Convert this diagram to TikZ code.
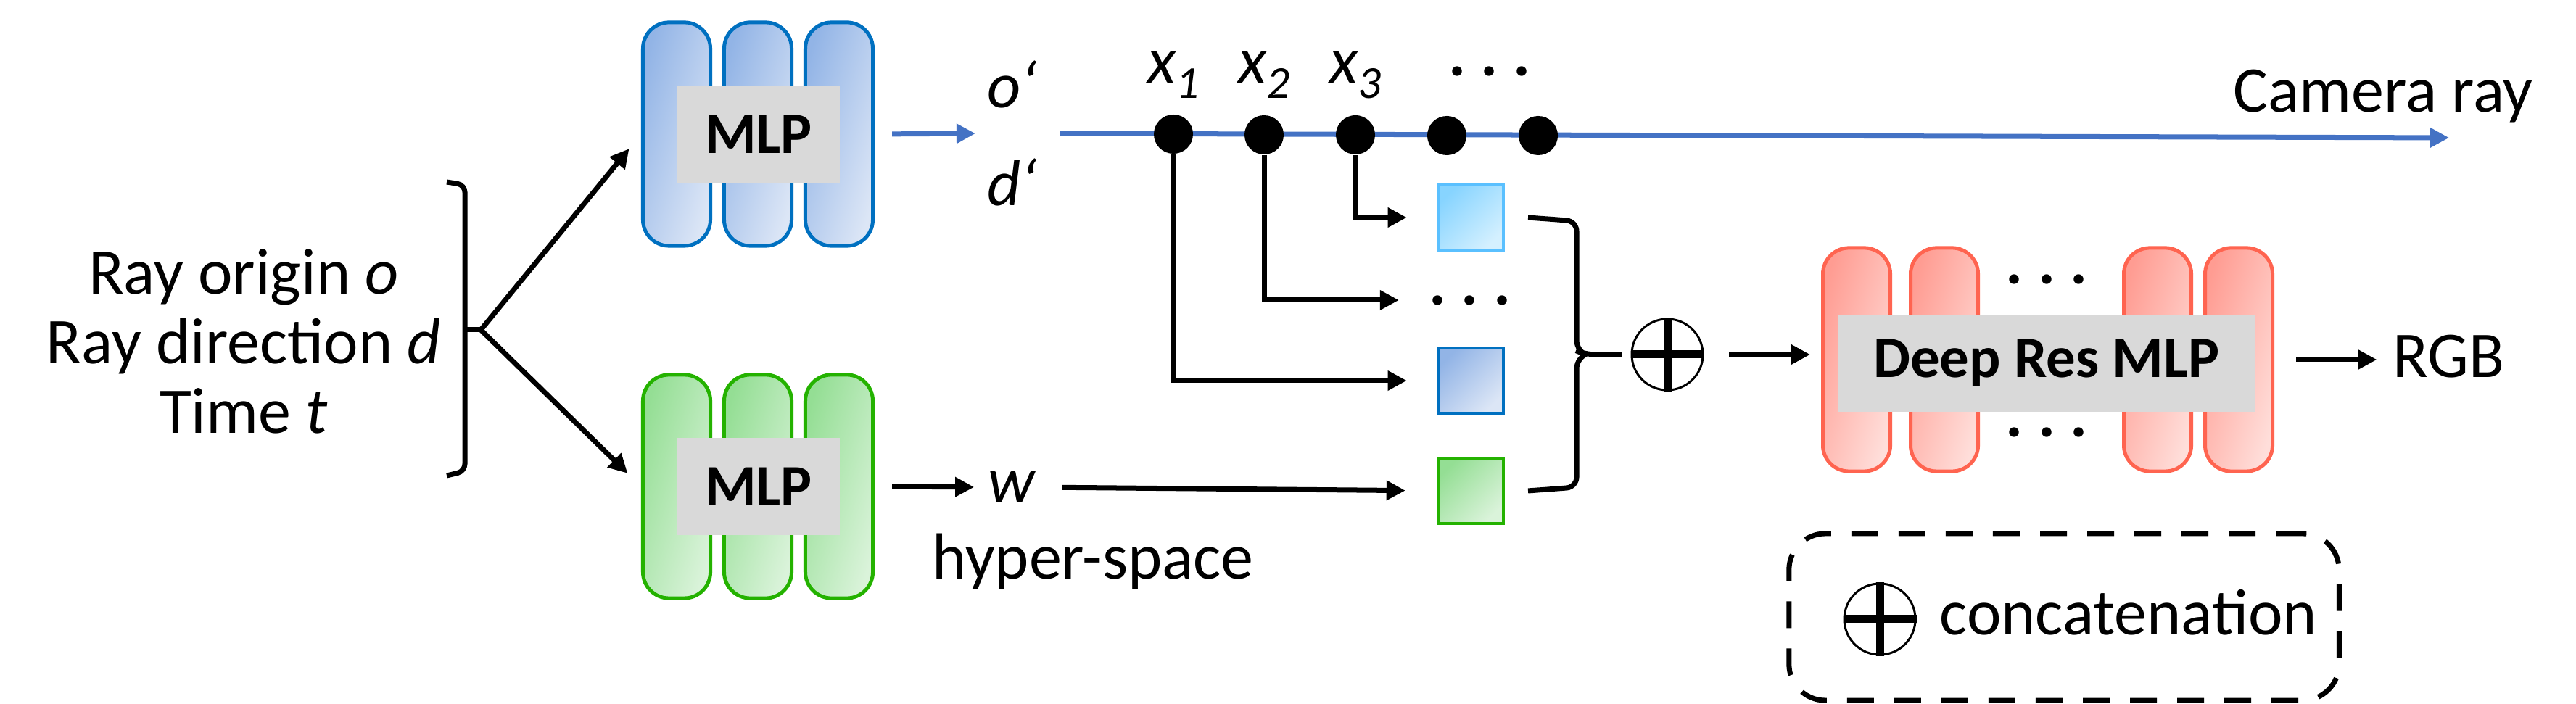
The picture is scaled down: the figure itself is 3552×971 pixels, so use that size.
\documentclass[tikz,border=0pt]{standalone}
\usepackage{fontspec}
\setmainfont{Carlito}
\usetikzlibrary{arrows.meta}

\definecolor{mlpblue}{RGB}{0,112,192}
\definecolor{bluetop}{RGB}{146,180,230}
\definecolor{bluebot}{RGB}{220,230,246}
\definecolor{mlpgreen}{RGB}{36,178,0}
\definecolor{greentop}{RGB}{148,222,148}
\definecolor{greenbot}{RGB}{218,243,218}
\definecolor{mlpred}{RGB}{255,100,80}
\definecolor{redtop}{RGB}{255,156,146}
\definecolor{redbot}{RGB}{255,222,218}
\definecolor{skyline}{RGB}{90,192,255}
\definecolor{skytop}{RGB}{135,212,255}
\definecolor{skybot}{RGB}{212,240,255}
\definecolor{boxgray}{RGB}{217,217,217}
\definecolor{raycol}{RGB}{68,114,196}

\newcommand{\txtsize}{\fontsize{25.6}{30}\selectfont}
\newcommand{\subsize}{\fontsize{18}{20}\selectfont}

\begin{document}
\begin{tikzpicture}[x=0.01cm, y=-0.01cm,
    every node/.style={inner sep=0pt, font=\txtsize},
    pillar/.style={draw, line width=0.05cm, rounded corners=0.36cm, minimum width=0.93cm, minimum height=3.08cm},
    bluepillar/.style={pillar, draw=mlpblue, top color=bluetop, bottom color=bluebot, shading angle=73},
    greenpillar/.style={pillar, draw=mlpgreen, top color=greentop, bottom color=greenbot, shading angle=73},
    redpillar/.style={pillar, draw=mlpred, top color=redtop, bottom color=redbot, shading angle=73},
    graybox/.style={fill=boxgray, font=\fontsize{23}{27}\selectfont\bfseries, minimum height=1.33cm},
    feat/.style={draw, line width=0.045cm, minimum size=0.9cm},
    sample/.style={circle, fill=black, minimum size=0.54cm},
    dots/.style={font=\txtsize\bfseries},
    arr/.style={line width=0.07cm, -{Triangle[length=0.26cm, width=0.26cm]}},
    rayarr/.style={arr, draw=raycol},
    brk/.style={line width=0.07cm, rounded corners=0.1cm},
    catnode/.style={circle, draw, line width=0.03cm, minimum size=0.98cm},
    ]
    \useasboundingbox (0,0) rectangle (3552,971);

    % inputs
    \node[anchor=base] (inO) at (336,406) {Ray origin \textit{o}};
    \node[anchor=base] (inD) at (336,502) {Ray direction \textit{d}};
    \node[anchor=base] (inT) at (336,598) {Time \textit{t}};

    % bracket
    \draw[brk] (616,251) -- (641,255) -- (641,650) -- (616,656);
    \coordinate (split) at (663,455);
    \draw[line width=0.07cm] (641,455) -- (split);

    % MLP for the ray (blue)
    \node[bluepillar] (b1) at (933,185) {};
    \node[bluepillar] (b2) at (1045,185) {};
    \node[bluepillar] (b3) at (1157,185) {};
    \node[graybox, minimum width=2.23cm] (bm) at (1046,185) {MLP};

    % MLP for the hyper-space (green)
    \node[greenpillar] (g1) at (933,671) {};
    \node[greenpillar] (g2) at (1045,671) {};
    \node[greenpillar] (g3) at (1157,671) {};
    \node[graybox, minimum width=2.23cm] (gm) at (1046,671) {MLP};

    \draw[arr, shorten >=0.26cm] (split) -- (b1.west);
    \draw[arr, shorten >=0.26cm] (split) -- (g1.west);

    % o' d'
    \node[align=center, font=\txtsize\itshape] (od) at (1396,184) {o‘\\[0.3cm]d‘};
    \draw[rayarr, shorten <=0.24cm, shorten >=0.16cm] (b3.east) -- (od.west);

    % camera ray
    \coordinate (rayend) at (3377,190);
    \draw[rayarr, shorten <=0.31cm] (od.east) -- (rayend);
    \node[anchor=base west] (cam) at (3079,155) {Camera ray};

    % samples
    \node[sample] (d1) at (1618,185) {};
    \node[sample] (d2) at (1743,186) {};
    \node[sample] (d3) at (1869,186) {};
    \node[sample] (d4) at (1995,187) {};
    \node[sample] (d5) at (2121,187) {};

    \node[anchor=base, font=\txtsize\itshape] (x1) at (1618,115) {x\raisebox{-0.21cm}{\subsize 1}};
    \node[anchor=base, font=\txtsize\itshape] (x2) at (1743,115) {x\raisebox{-0.21cm}{\subsize 2}};
    \node[anchor=base, font=\txtsize\itshape] (x3) at (1869,115) {x\raisebox{-0.21cm}{\subsize 3}};
    \node[dots] (xd) at (2054,98) {.\ .\ .};

    % w
    \node[font=\txtsize\itshape] (w) at (1395,672) {w};
    \node[anchor=base] (hyp) at (1507,799) {hyper-space};
    \draw[arr, shorten <=0.24cm, shorten >=0.19cm] (g3.east) -- (w.west);

    % features
    \node[feat, draw=skyline, top color=skytop, bottom color=skybot, shading angle=45] (f3) at (2028,300) {};
    \node[dots, minimum width=0.9cm] (fd) at (2027,414) {.\ .\ .};
    \node[feat, draw=mlpblue, top color=bluetop, bottom color=bluebot, shading angle=45] (f1) at (2028,525) {};
    \node[feat, draw=mlpgreen, top color=greentop, bottom color=greenbot, shading angle=45] (fw) at (2028,677) {};

    \draw[arr, shorten >=0.41cm] (d3) |- (f3);
    \draw[arr, shorten >=0.41cm] (d2) |- (fd);
    \draw[arr, shorten >=0.41cm] (d1) |- (f1);
    \draw[arr, shorten <=0.37cm, shorten >=0.43cm] (w.east) -- (fw.west);

    % brace
    \draw[brk, rounded corners=0.14cm] (2107,300) -- (2174,305) -- (2174,484) -- (2186,489) -- (2236,489);
    \draw[brk, rounded corners=0.14cm] (2107,677) -- (2174,672) -- (2174,494) -- (2186,489);

    % concatenation
    \node[catnode] (cat) at (2299,489) {};
    \draw[line width=0.11cm] (cat.north) -- (cat.south) (cat.west) -- (cat.east);

    % deep res MLP (red)
    \node[redpillar] (r1) at (2560,496) {};
    \node[redpillar] (r2) at (2681,496) {};
    \node[redpillar] (r3) at (2975,496) {};
    \node[redpillar] (r4) at (3087,496) {};
    \node[graybox, minimum width=5.76cm] (rm) at (2822,501) {Deep Res MLP};
    \node[dots] (rdu) at (2822,385) {.\ .\ .};
    \node[dots] (rdd) at (2822,596) {.\ .\ .};

    \draw[arr, shorten <=0.34cm, shorten >=0.15cm] (cat.east) -- (cat.east -| r1.west);

    \node (rgb) at (3376,492) {RGB};
    \draw[arr, shorten <=0.3cm, shorten >=0.21cm] (r4.east) -- (r4.east -| rgb.west);

    % legend
    \node[draw, line width=0.07cm, dash pattern=on 0.37cm off 0.28cm, rounded corners=0.5cm, minimum width=7.58cm, minimum height=2.3cm] (key) at (2846,851) {};
    \node[catnode] (catkey) at (2592,854) {};
    \draw[line width=0.11cm] (catkey.north) -- (catkey.south) (catkey.west) -- (catkey.east);
    \node[anchor=base west] (keytxt) at (2674,876) {concatenation};
\end{tikzpicture}
\end{document}
